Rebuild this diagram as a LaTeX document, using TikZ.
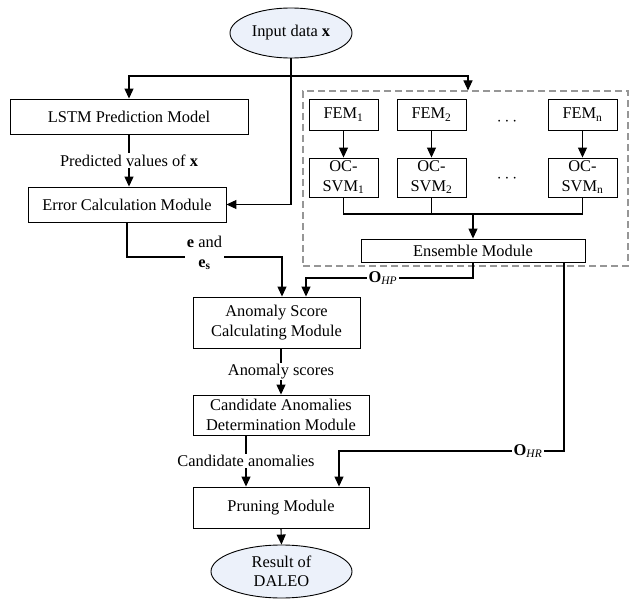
\documentclass[tikz,border=0pt]{standalone}
\usepackage{fontspec}
\setmainfont{Liberation Serif}
\usetikzlibrary{shapes.geometric,arrows.meta}

\definecolor{ovalfill}{RGB}{236,241,250}
\definecolor{dashgray}{RGB}{150,150,150}

\tikzset{
  box/.style={draw, line width=0.9pt, fill=white, align=center, inner sep=0pt},
  oval/.style={draw, ellipse, line width=0.9pt, fill=ovalfill, align=center, inner sep=0pt},
  lbl/.style={fill=white, inner sep=1.5pt, align=center},
  arr/.style={-{Triangle[length=10pt,width=9pt]}, line width=1.1pt},
  conn/.style={line width=1.1pt}
}

\begin{document}
\begin{tikzpicture}[x=1pt,y=-1pt,font=\fontsize{16.4}{19.5}\selectfont]
\useasboundingbox (0,0) rectangle (630,602);

% main column
\node[oval, minimum width=122, minimum height=50] (input) at (291,33) {Input data \textbf{x}};
\node[box, minimum width=238, minimum height=35] (lstm) at (129,116.5) {LSTM Prediction Model};
\node[box, minimum width=198, minimum height=35] (err) at (127,204.5) {Error Calculation Module};
\node[box, minimum width=167, minimum height=51] (score) at (276.5,322.5) {Anomaly Score\\Calculating Module};
\node[box, minimum width=176, minimum height=40] (cand) at (281,415) {Candidate Anomalies\\Determination Module};
\node[box, minimum width=176, minimum height=41] (prune) at (281,507.5) {Pruning Module};
\node[oval, minimum width=141, minimum height=53] (result) at (281.5,571.5) {Result of\\DALEO};

% ensemble group
\node[draw=dashgray, dash pattern=on 7pt off 4pt, line width=1.1pt, minimum width=325, minimum height=175] (group) at (465.5,178.5) {};
\node[box, minimum width=69, minimum height=31] (fem1) at (343.5,114.5) {FEM\textsubscript{1}};
\node[box, minimum width=69, minimum height=31] (fem2) at (431.5,114.5) {FEM\textsubscript{2}};
\node[box, minimum width=69, minimum height=31] (femn) at (582.5,114.5) {FEM\textsubscript{n}};
\node[box, minimum width=69, minimum height=39] (oc1) at (343.5,177.5) {OC-\\SVM\textsubscript{1}};
\node[box, minimum width=69, minimum height=39] (oc2) at (431.5,177.5) {OC-\\SVM\textsubscript{2}};
\node[box, minimum width=69, minimum height=39] (ocn) at (582.5,177.5) {OC-\\SVM\textsubscript{n}};
\node (dotsA) at (507,122) {$\cdots$};
\node (dotsB) at (507,179) {$\cdots$};
\node[box, minimum width=224, minimum height=23] (ens) at (473,250.5) {Ensemble Module};

% input split
\coordinate (split) at (291,76);
\draw[conn] (input.south) -- (split);
\draw[arr] (split) -| (lstm.north);
\draw[arr] (split) -| ([xshift=2.5]group.north);
\draw[arr] (split) |- (err.east);
\draw[arr] (lstm.south) -- node[lbl]{Predicted values of \textbf{x}} (lstm.south |- err.north);

% inside the group
\draw[arr] (fem1) -- (oc1);
\draw[arr] (fem2) -- (oc2);
\draw[arr] (femn) -- (ocn);
\coordinate (join) at (473,214);
\draw[conn] (oc1.south) |- (join) -| (ocn.south);
\draw[conn] (oc2.south) -- (oc2.south |- join);
\draw[arr] (join) -- (ens.north);

% into the score module
\draw[arr] (err.south) |- node[lbl, pos=0.75, yshift=4]{\textbf{e} and\\\textbf{e}\textsubscript{\textbf{s}}} (282,257) -- ([xshift=5.5]score.north);
\draw[arr] (ens.south) |- node[lbl, pos=0.77]{\textbf{O}\textsubscript{\textit{HP}}} (306,278) -- ([xshift=29.5]score.north);
\draw[arr] ([xshift=4.5]score.south) -- node[lbl]{Anomaly scores} (cand.north);
\draw[arr] ([xshift=-35]cand.south) -- node[lbl]{Candidate anomalies} ([xshift=-35]prune.north);
\draw[arr] ([xshift=91]ens.south) |- node[lbl, pos=0.58]{\textbf{O}\textsubscript{\textit{HR}}} (339,451) -- ([xshift=58]prune.north);
\draw[arr] (prune.south) -- (result.north);

\end{tikzpicture}
\end{document}
